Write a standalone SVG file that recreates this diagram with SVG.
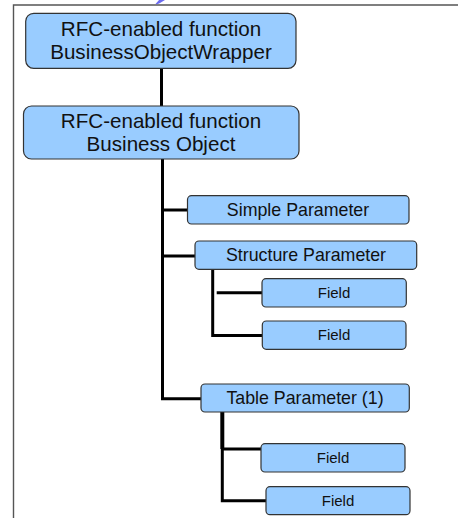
<svg xmlns="http://www.w3.org/2000/svg" width="458" height="518" viewBox="0 0 458 518">
<style>
.box{fill:#99ccff;stroke:#333;stroke-width:1.2}
.t{font-family:"Liberation Sans",Arial,sans-serif;fill:#111;text-anchor:middle}
.big{font-size:20.6px}
.par{font-size:17.8px}
.fld{font-size:15px}
.c{stroke:#000;stroke-width:3;fill:none}
</style>
<rect width="458" height="518" fill="#fff"/>
<path d="M155.5,4 Q158,4.5 160,3 L165,0 L159,0 Z" fill="#6b6bf0"/>
<path d="M13.5,518 V5 H458" fill="none" stroke="#555" stroke-width="1.4"/>
<g id="connectors">
<path class="c" d="M161.5,68 V106"/>
<path class="c" d="M162.5,159 V398.7 H201"/>
<path class="c" d="M162.5,210 H187.5"/>
<path class="c" d="M162.5,256 H195"/>
<path class="c" d="M212.7,269 V335.5 H262"/>
<path class="c" d="M216.7,292.7 H262"/>
<path class="c" d="M222.3,412 V449" style="stroke-width:4"/>
<path class="c" d="M222.3,449 V500.7 H266"/>
<path class="c" d="M222.3,449 H261"/>
</g>
<g id="wrapper">
<rect class="box" x="25.7" y="13.3" width="270.3" height="55" rx="8"/>
<text class="t big" x="161" y="35.7">RFC-enabled function</text>
<text class="t big" x="161" y="59">BusinessObjectWrapper</text>
</g>
<g id="business-object">
<rect class="box" x="23.5" y="106" width="275.5" height="53" rx="8"/>
<text class="t big" x="161" y="127.7">RFC-enabled function</text>
<text class="t big" x="161" y="150.7">Business Object</text>
</g>
<g id="simple-parameter">
<rect class="box" x="187.5" y="195.7" width="221.5" height="28.3" rx="4"/>
<text class="t par" x="298" y="216">Simple Parameter</text>
</g>
<g id="structure-parameter">
<rect class="box" x="195" y="241" width="221.7" height="28.3" rx="4"/>
<text class="t par" x="306" y="261.3">Structure Parameter</text>
</g>
<g id="field-1">
<rect class="box" x="262" y="278.7" width="144.3" height="28.3" rx="4"/>
<text class="t fld" x="334" y="298.3">Field</text>
</g>
<g id="field-2">
<rect class="box" x="262.3" y="321" width="143.7" height="28.3" rx="4"/>
<text class="t fld" x="334" y="340">Field</text>
</g>
<g id="table-parameter">
<rect class="box" x="201" y="384" width="208.3" height="28" rx="4"/>
<text class="t par" x="305" y="404">Table Parameter (1)</text>
</g>
<g id="field-3">
<rect class="box" x="261" y="443.7" width="144" height="28.3" rx="4"/>
<text class="t fld" x="333" y="463.3">Field</text>
</g>
<g id="field-4">
<rect class="box" x="266" y="486.7" width="144" height="28" rx="4"/>
<text class="t fld" x="338" y="506">Field</text>
</g>
</svg>
